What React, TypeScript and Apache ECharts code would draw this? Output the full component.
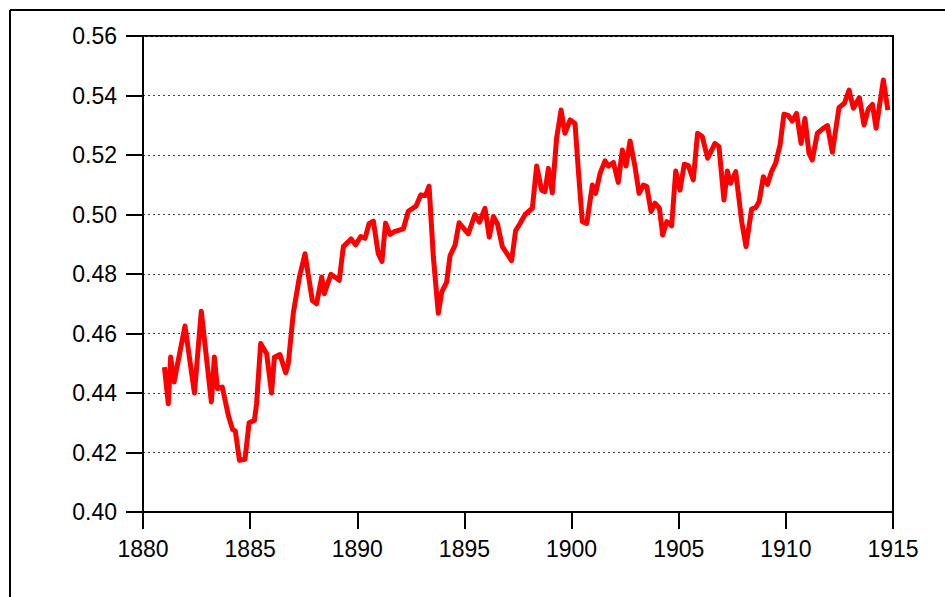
import React, { useEffect, useRef } from "react";
import * as echarts from "echarts";

// Decimal-year positions of the series' observations
const years: number[] = [
  1881.0, 1881.18, 1881.29, 1881.45, 1881.96, 1882.4, 1882.72, 1883.19, 1883.33, 1883.47,
  1883.7, 1883.98, 1884.18, 1884.31, 1884.5, 1884.76, 1884.95, 1885.2, 1885.3, 1885.49,
  1885.77, 1886.0, 1886.13, 1886.39, 1886.66, 1886.78, 1887.02, 1887.3, 1887.56, 1887.9,
  1888.1, 1888.34, 1888.46, 1888.77, 1889.16,
  1889.35, 1889.71, 1889.92, 1890.16, 1890.36, 1890.55, 1890.75, 1890.98, 1891.15, 1891.32,
  1891.53, 1891.76, 1892.15, 1892.38, 1892.74, 1892.96, 1893.19, 1893.35, 1893.55, 1893.78,
  1893.94, 1894.17, 1894.33, 1894.56, 1894.75, 1895.18, 1895.49, 1895.7, 1895.96, 1896.16,
  1896.35, 1896.54, 1896.77, 1897.2, 1897.39, 1897.59, 1897.83,
  1898.17, 1898.37, 1898.6, 1898.76, 1898.92, 1899.1, 1899.3, 1899.51, 1899.69, 1899.93,
  1900.16, 1900.32, 1900.5, 1900.71, 1900.97, 1901.12, 1901.33, 1901.56, 1901.72, 1901.95,
  1902.18, 1902.37, 1902.54, 1902.73, 1902.96, 1903.15, 1903.35, 1903.51, 1903.71, 1903.89,
  1904.1, 1904.25, 1904.44, 1904.67, 1904.86, 1905.06, 1905.26, 1905.45, 1905.68, 1905.88,
  1906.1,
  1906.35, 1906.69, 1906.88, 1907.11, 1907.27, 1907.42, 1907.66, 1907.94, 1908.14, 1908.4,
  1908.59, 1908.75, 1908.95, 1909.14, 1909.34, 1909.52, 1909.73, 1909.91, 1910.12, 1910.3,
  1910.5, 1910.71, 1910.89, 1911.08, 1911.23, 1911.47, 1911.7, 1911.94, 1912.17, 1912.48,
  1912.73, 1912.95, 1913.15, 1913.43, 1913.65, 1913.85, 1914.04, 1914.21, 1914.55, 1914.76,
];

const values: number[] = [
  0.4487, 0.4364, 0.4521, 0.4437, 0.4625, 0.44, 0.4675, 0.437, 0.4521, 0.4415,
  0.442, 0.4325, 0.4277, 0.4272, 0.4174, 0.4177, 0.43, 0.4308, 0.4364, 0.4566,
  0.4532, 0.44, 0.452, 0.4529, 0.4468, 0.4499, 0.4672, 0.479, 0.4868, 0.4711,
  0.47, 0.479, 0.4734, 0.4799, 0.4779,
  0.4892, 0.4918, 0.4898, 0.4926, 0.492, 0.4969, 0.4978, 0.4868, 0.4842, 0.4971,
  0.4933, 0.4943, 0.4952, 0.5011, 0.5028, 0.5066, 0.5064, 0.5095, 0.4857, 0.4668,
  0.4739, 0.4773, 0.4862, 0.4896, 0.4972, 0.4935, 0.5, 0.4974, 0.5021, 0.4924,
  0.4993, 0.4969, 0.4892, 0.4845, 0.4946, 0.4969, 0.5,
  0.5021, 0.5163, 0.5082, 0.5077, 0.5155, 0.5073, 0.5256, 0.5351, 0.5273, 0.5318,
  0.5306, 0.5144, 0.4976, 0.497, 0.5099, 0.5071, 0.5138, 0.518, 0.5163, 0.5175,
  0.5108, 0.5217, 0.5163, 0.5247, 0.5161, 0.5071, 0.5099, 0.5094, 0.501, 0.5038,
  0.5021, 0.4931, 0.4976, 0.4962, 0.5146, 0.5082, 0.5169, 0.5164, 0.5116, 0.5273,
  0.5262,
  0.5189, 0.5239, 0.5228, 0.5049, 0.5146, 0.5105, 0.5144, 0.4976, 0.4892, 0.5018,
  0.5023, 0.5043, 0.5127, 0.5101, 0.5146, 0.5172, 0.5234, 0.5337, 0.5332, 0.5314,
  0.534, 0.5239, 0.5323, 0.5206, 0.5183, 0.5273, 0.5287, 0.5299, 0.5209, 0.5359,
  0.5374, 0.5418, 0.5357, 0.5393, 0.5301, 0.5355, 0.537, 0.529, 0.5452, 0.5351,
];

const xMin = 1880;
const xMax = 1915;
const xStep = 5;
const yMin = 0.4;
const yMax = 0.56;
const yStep = 0.02;

export default function App() {
  const ref = useRef<HTMLDivElement>(null);

  useEffect(() => {
    if (!ref.current) return;
    const chart = echarts.init(ref.current, null, { renderer: "svg" });
    const font = "'Liberation Sans', Arial, sans-serif";
    chart.setOption({
      animation: false,
      backgroundColor: "#ffffff",
      grid: {
        left: 143,
        top: 36,
        right: 52,
        bottom: 85,
        show: true,
        borderColor: "#000000",
        borderWidth: 2,
        backgroundColor: "transparent",
      },
      graphic: [
        {
          type: "line",
          shape: { x1: 10, y1: 10, x2: 945, y2: 10 },
          style: { stroke: "#000000", lineWidth: 2 },
          silent: true,
        },
        {
          type: "line",
          shape: { x1: 10, y1: 10, x2: 10, y2: 597 },
          style: { stroke: "#000000", lineWidth: 2 },
          silent: true,
        },
      ],
      xAxis: {
        type: "value",
        min: xMin,
        max: xMax,
        interval: xStep,
        axisLine: { show: true, onZero: false, lineStyle: { color: "#000000", width: 2 } },
        axisTick: { show: true, length: 17, lineStyle: { color: "#000000", width: 2 } },
        axisLabel: {
          color: "#000000",
          fontSize: 23,
          fontFamily: font,
          margin: 25,
          formatter: (v: number) => String(v),
        },
        splitLine: { show: false },
      },
      yAxis: {
        type: "value",
        min: yMin,
        max: yMax,
        interval: yStep,
        axisLine: { show: true, onZero: false, lineStyle: { color: "#000000", width: 2 } },
        axisTick: { show: true, length: 17, lineStyle: { color: "#000000", width: 2 } },
        axisLabel: {
          color: "#000000",
          fontSize: 23,
          fontFamily: font,
          margin: 26,
          formatter: (v: number) => v.toFixed(2),
        },
        splitLine: {
          show: true,
          lineStyle: { color: "#444444", width: 1, type: [2, 3] },
        },
      },
      series: [
        {
          type: "line",
          data: years.map((y, i) => [y, values[i]]),
          showSymbol: false,
          symbol: "none",
          lineStyle: { color: "#ff0000", width: 5, join: "round" },
          z: 3,
        },
      ],
    });
    return () => chart.dispose();
  }, []);

  return (
    <div
      ref={ref}
      style={{ position: "absolute", left: 0, top: 0, width: 945, height: 597 }}
    />
  );
}
